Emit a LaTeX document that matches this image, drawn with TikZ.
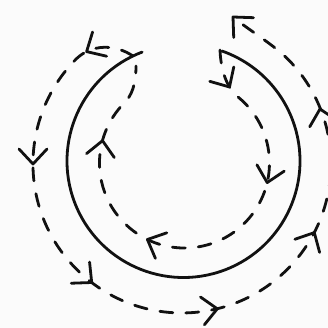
\documentclass[tikz,border=0pt]{standalone}
\usetikzlibrary{calc}
\definecolor{ink}{HTML}{111111}
\definecolor{paper}{HTML}{FBFBFB}
\newcommand\arrhead[3]{\draw[headline,shift={(#1,#2)},rotate=-#3] (-15,14) -- (0,0) -- (-15,-14);}
\begin{document}
\begin{tikzpicture}[x=1pt,y=-1pt,
  curve/.style={draw=ink,line width=2.8pt,line cap=round},
  dashcurve/.style={curve,dash pattern=on 13pt off 13pt},
  headline/.style={draw=ink,line width=2.8pt,line cap=round,line join=round}]
\fill[paper] (0,0) rectangle (328,328);
\useasboundingbox (0,0) rectangle (328,328);
% solid arc
\draw[curve] (183.5,161) ++(-110.8:116.5) arc[start angle=-110.8,end angle=-430.7,radius=116.5];
% outer dashed path
\draw[dashcurve] (133,56) .. controls (115,44) and (92,44) .. (76.6,58.6)
  arc[start angle=-135,end angle=-405,radius=149]
  .. controls (273.4,44.6) and (248,29.5) .. (233,17);
% inner dashed path
\draw[dashcurve] (220,50) .. controls (221,75) and (229,90) .. (239.1,97.9)
  arc[start angle=-50,end angle=225,radius=85]
  .. controls (131.4,95.9) and (136,85) .. (136,66);
% outer arrowheads
\arrhead{86.6}{51.6}{150}
\arrhead{33}{164}{90}
\arrhead{91.7}{282.5}{41}
\arrhead{217.3}{308.8}{-8}
\arrhead{314.3}{232.6}{-62}
\arrhead{320}{109}{-103}
\arrhead{233}{17}{-135}
% inner arrowheads
\arrhead{229.5}{87}{59}
\arrhead{267.2}{182.6}{103}
\arrhead{147.4}{239.5}{204}
\arrhead{102.5}{140.7}{-82}
\end{tikzpicture}
\end{document}
